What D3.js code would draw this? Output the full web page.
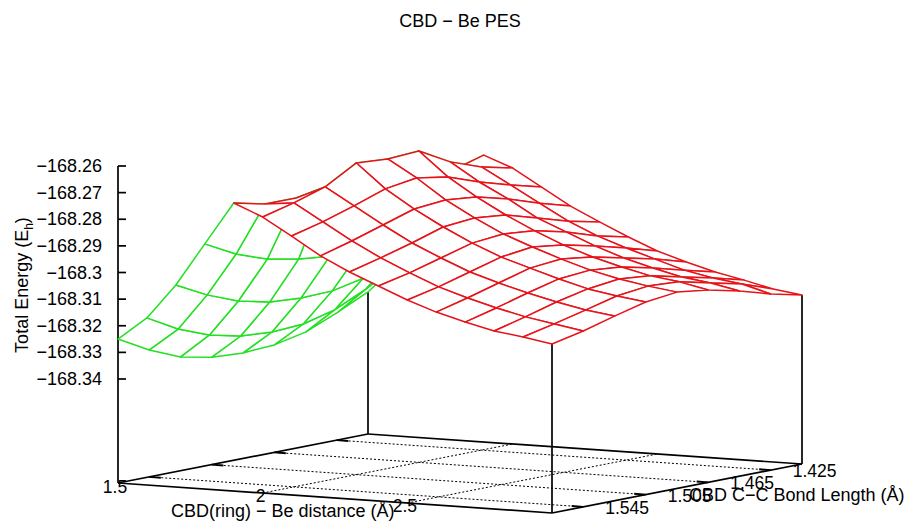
<!DOCTYPE html>
<html>
<head>
<meta charset="utf-8">
<script src="https://cdn.jsdelivr.net/npm/d3@7"></script>
<style>
  html, body { margin: 0; padding: 0; background: #fff; }
  text { font-family: "Liberation Sans", sans-serif; font-size: 18px; fill: #000; }
  .floor-label { font-size: 17.5px; }
</style>
</head>
<body>
<div id="container"></div>
<script>
// define constants
const WIDTH = 907;
const HEIGHT = 523;
const RED = "#e6141a";
const GREEN = "#22e022";

// CBD(ring) - Be distance, in angstrom
const distances = [1.5, 1.6, 1.7, 1.8, 1.9, 2.0, 2.1, 2.2, 2.3, 2.4, 2.5, 2.6, 2.7, 2.8, 2.9, 3.0];
// CBD C-C bond length, in angstrom
const bondLengths = [1.565, 1.545, 1.525, 1.505, 1.485, 1.465, 1.445, 1.425, 1.405];

// total energy per distance, one value per bond length
const energy150 = [-168.3250, -168.3314, -168.3363, -168.3387, -168.3394, -168.3387, -168.3362, -168.3313, -168.3257];
const energy160 = [-168.3163, -168.3228, -168.3273, -168.3300, -168.3308, -168.3301, -168.3271, -168.3216, -168.3148];
const energy170 = [-168.3032, -168.3092, -168.3138, -168.3165, -168.3173, -168.3169, -168.3144, -168.3092, -168.3028];
const energy180 = [-168.2870, -168.2931, -168.2973, -168.2996, -168.3008, -168.3008, -168.2986, -168.2934, -168.2870];
const energy190 = [-168.2709, -168.2736, -168.2736, -168.2714, -168.2707, -168.2707, -168.2724, -168.2747, -168.2713];
const energy200 = [-168.2754, -168.2724, -168.2687, -168.2620, -168.2628, -168.2621, -168.2685, -168.2727, -168.2754];
const energy210 = [-168.2818, -168.2788, -168.2751, -168.2710, -168.2692, -168.2711, -168.2753, -168.2787, -168.2818];
const energy220 = [-168.2885, -168.2852, -168.2815, -168.2778, -168.2767, -168.2779, -168.2809, -168.2848, -168.2882];
const energy230 = [-168.2938, -168.2908, -168.2875, -168.2838, -168.2827, -168.2839, -168.2873, -168.2908, -168.2934];
const energy240 = [-168.2983, -168.2957, -168.2924, -168.2891, -168.2880, -168.2891, -168.2918, -168.2956, -168.2983];
const energy250 = [-168.3028, -168.3002, -168.2969, -168.2936, -168.2921, -168.2937, -168.2963, -168.2994, -168.3028];
const energy260 = [-168.3066, -168.3036, -168.3003, -168.2970, -168.2959, -168.2974, -168.3001, -168.3028, -168.3062];
const energy270 = [-168.3096, -168.3066, -168.3033, -168.3003, -168.2993, -168.3004, -168.3031, -168.3062, -168.3092];
const energy280 = [-168.3122, -168.3092, -168.3059, -168.3033, -168.3019, -168.3030, -168.3057, -168.3084, -168.3115];
const energy290 = [-168.3137, -168.3111, -168.3082, -168.3052, -168.3038, -168.3045, -168.3072, -168.3099, -168.3141];
const energy300 = [-168.3156, -168.3130, -168.3097, -168.3067, -168.3053, -168.3068, -168.3095, -168.3129, -168.3156];

const energies = [energy150, energy160, energy170, energy180, energy190, energy200, energy210, energy220,
    energy230, energy240, energy250, energy260, energy270, energy280, energy290, energy300];

// tick labels
const energyTicks = [-168.26, -168.27, -168.28, -168.29, -168.3, -168.31, -168.32, -168.33, -168.34];
const distanceTicks = [1.5, 2, 2.5];
const bondTicks = [1.545, 1.505, 1.465, 1.425];

// fixed view, same idea as gnuplot's "set view": each axis adds a screen offset
const distanceX = d3.scaleLinear().domain([1.5, 3.0]).range([0, 434]);
const distanceY = d3.scaleLinear().domain([1.5, 3.0]).range([0, 30]);
const bondX = d3.scaleLinear().domain([1.565, 1.405]).range([0, 250]);
const bondY = d3.scaleLinear().domain([1.565, 1.405]).range([0, -49]);
const energyY = d3.scaleLinear().domain([-168.34, -168.26]).range([379, 166]);
const ORIGIN_X = 118;
const BASE_Y = 483;
const baseEnergy = energyY.invert(BASE_Y);

const project = (d, b, e) => [
    ORIGIN_X + distanceX(d) + bondX(b),
    energyY(e) + distanceY(d) + bondY(b)
];

const dMin = distances[0];
const dMax = distances[distances.length - 1];
const bFront = bondLengths[0];
const bBack = bondLengths[bondLengths.length - 1];

const minus = (v) => String(v).replace("-", "\u2212");

// create svg element
const canvas = d3.select("#container")
    .append("svg")
    .attr("width", WIDTH)
    .attr("height", HEIGHT)
    .style("display", "block");

const addLine = (p, q, width, dash) => canvas.append("line")
    .attr("x1", p[0]).attr("y1", p[1])
    .attr("x2", q[0]).attr("y2", q[1])
    .attr("stroke", "#000")
    .attr("stroke-width", width)
    .attr("stroke-dasharray", dash || null);

// dotted floor grid
bondTicks.forEach((b) => addLine(project(dMin, b, baseEnergy), project(dMax, b, baseEnergy), 1, "2,2"));
distanceTicks.slice(1).forEach((d) => addLine(project(d, bFront, baseEnergy), project(d, bBack, baseEnergy), 1, "2,2"));

// floor border
const cornerL = project(dMin, bFront, baseEnergy);
const cornerF = project(dMax, bFront, baseEnergy);
const cornerR = project(dMax, bBack, baseEnergy);
const cornerB = project(dMin, bBack, baseEnergy);
[[cornerL, cornerF], [cornerF, cornerR], [cornerR, cornerB], [cornerB, cornerL]]
    .forEach((edge) => addLine(edge[0], edge[1], 1.7));

// ticks on the floor edges, running along the distance axis
bondTicks.forEach((b) => {
    addLine(project(dMin, b, baseEnergy), project(dMin + 0.04, b, baseEnergy), 2);
    addLine(project(dMax, b, baseEnergy), project(dMax - 0.04, b, baseEnergy), 2);
});

// energy axis with its ticks
addLine(cornerL, project(dMin, bFront, energyTicks[0]), 1.7);
energyTicks.forEach((e) => {
    const p = project(dMin, bFront, e);
    addLine(p, [p[0] + 8, p[1]], 1.7);
});

// vertical posts up to the surface corners
addLine(cornerB, project(dMin, bBack, energies[0][bondLengths.length - 1]), 1.7);
addLine(cornerF, project(dMax, bFront, energies[distances.length - 1][0]), 1.7);
addLine(cornerR, project(dMax, bBack, energies[distances.length - 1][bondLengths.length - 1]), 1.7);

// surface: painted from the far corner forward, white fill hides what is behind
const cells = [];
distances.slice(0, -1).forEach((d, i) => {
    for (let j = bondLengths.length - 2; j >= 0; j--) {
        cells.push([
            project(d, bondLengths[j], energies[i][j]),
            project(distances[i + 1], bondLengths[j], energies[i + 1][j]),
            project(distances[i + 1], bondLengths[j + 1], energies[i + 1][j + 1]),
            project(d, bondLengths[j + 1], energies[i][j + 1])
        ]);
    }
});

canvas.append("g")
    .selectAll("path")
    .data(cells)
    .enter()
    .append("path")
    .attr("d", (c) => d3.line()(c) + "Z")
    .attr("fill", "#fff")
    // polygon winding on screen tells which side of the surface we look at
    .attr("stroke", (c) => d3.polygonArea(c) > 0 ? RED : GREEN)
    .attr("stroke-width", 1.5)
    .attr("stroke-linejoin", "round");

// energy tick labels
canvas.selectAll(".energy-label")
    .data(energyTicks)
    .enter()
    .append("text")
    .attr("class", "energy-label")
    .attr("x", 102)
    .attr("y", (e) => energyY(e) + 6)
    .attr("text-anchor", "end")
    .text(minus);

// distance tick labels
const distanceLabelShift = { 1.5: [-3, 10], 2: [-2, 9], 2.5: [-2.5, 9] };
canvas.selectAll(".distance-label")
    .data(distanceTicks)
    .enter()
    .append("text")
    .attr("class", "distance-label floor-label")
    .attr("x", (d) => project(d, bFront, baseEnergy)[0] + distanceLabelShift[d][0])
    .attr("y", (d) => project(d, bFront, baseEnergy)[1] + distanceLabelShift[d][1])
    .attr("text-anchor", "middle")
    .text((d) => d);

// bond length tick labels
canvas.selectAll(".bond-label")
    .data(bondTicks)
    .enter()
    .append("text")
    .attr("class", "bond-label floor-label")
    .attr("x", (b) => project(dMax, b, baseEnergy)[0] + 22)
    .attr("y", (b) => project(dMax, b, baseEnergy)[1] + 7)
    .attr("text-anchor", "start")
    .text((b) => b);

// titles
canvas.append("text")
    .attr("x", 460)
    .attr("y", 27)
    .attr("text-anchor", "middle")
    .text("CBD \u2212 Be PES");

canvas.append("text")
    .attr("x", 171)
    .attr("y", 517)
    .text("CBD(ring) \u2212 Be distance (\u00c5)");

canvas.append("text")
    .attr("x", 689)
    .attr("y", 501)
    .text("CBD C\u2212C Bond Length (\u00c5)");

// label y axis
const yLabel = canvas.append("text")
    .attr("text-anchor", "middle")
    .attr("transform", "translate(28, 285) rotate(-90)");
yLabel.append("tspan").text("Total Energy (E");
yLabel.append("tspan").attr("dy", 5).style("font-size", "12px").text("h");
yLabel.append("tspan").attr("dy", -5).text(")");
</script>
</body>
</html>
